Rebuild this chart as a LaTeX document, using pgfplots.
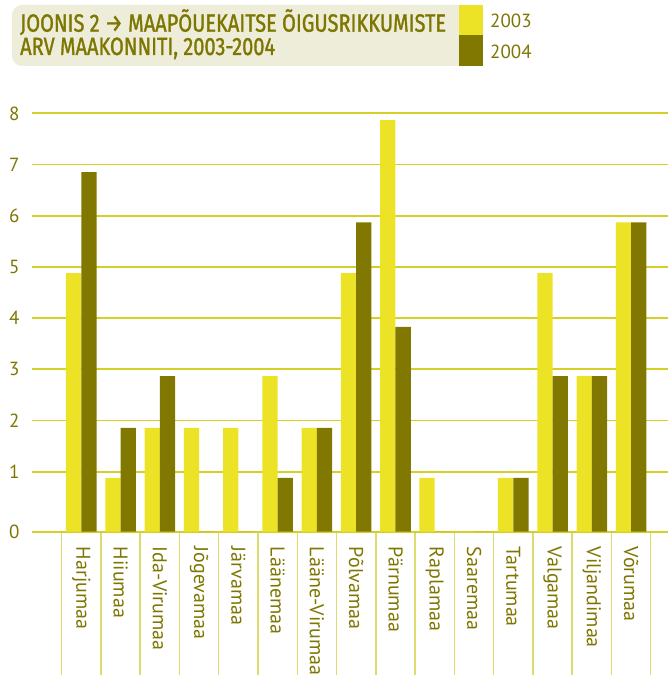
\documentclass[border=0pt]{standalone}
\usepackage{pgfplots}
\pgfplotsset{compat=1.18}
\usetikzlibrary{calc}
\usepackage{fontspec}
\setmainfont{PT Sans}
\newfontfamily\titlefont[FakeStretch=0.8, FakeBold=1.2]{Fira Sans}

\definecolor{yel}{RGB}{237,227,38}
\definecolor{oli}{RGB}{128,120,0}
\definecolor{txt}{RGB}{125,118,0}
\definecolor{gridcol}{RGB}{213,208,40}
\definecolor{basecol}{RGB}{222,220,110}
\definecolor{titlebg}{RGB}{238,237,218}

\begin{document}
\begin{tikzpicture}
\begin{axis}[
  name=ax, anchor=south west,
  scale only axis, width=658.3pt, height=425pt,
  xmin=-1.263, xmax=15.5, ymin=0, ymax=8.3,
  ybar=0pt, bar width=15.3pt,
  axis line style={draw=none},
  /pgf/number format/assume math mode=true,
  xtick={0,...,14},
  xticklabels={Harjumaa,Hiiumaa,Ida-Virumaa,Jõgevamaa,Järvamaa,Läänemaa,Lääne-Virumaa,Põlvamaa,Pärnumaa,Raplamaa,Saaremaa,Tartumaa,Valgamaa,Viljandimaa,Võrumaa},
  xtick pos=bottom, major tick length=0pt,
  xticklabel style={rotate=-90, anchor=west, inner sep=0pt, text=txt, font=\fontsize{20}{20}\selectfont},
  xticklabel shift=15pt,
  extra x ticks={-0.5,0.5,...,14.5},
  extra x tick labels={},
  extra x tick style={major tick length=143.3pt, tick align=outside,
    tick style={draw=basecol, line width=1.5pt}, grid=none},
  ytick={1.17,2.17,3.17,4.17,5.17,6.17,7.17,8.17},
  yticklabels={1,2,3,4,5,6,7,8},
  extra y ticks={0}, extra y tick labels={0},
  extra y tick style={grid style={draw=basecol, line width=2pt}},
  ytick style={draw=none},
  yticklabel style={anchor=east, inner sep=0pt, xshift=-12pt, text=txt, font=\fontsize{19}{19}\selectfont},
  ymajorgrids,
  major grid style={draw=gridcol, line width=1.8pt},
  clip=false,
]
% 2003
\addplot[fill=yel, draw=none] coordinates {
  (0,5.05) (1,1.05) (2,2.03) (3,2.03) (4,2.03) (5,3.04) (6,2.03) (7,5.05)
  (8,8.04) (9,1.05) (10,0) (11,1.05) (12,5.05) (13,3.04) (14,6.04)};
% 2004
\addplot[fill=oli, draw=none] coordinates {
  (0,7.02) (1,2.03) (2,3.04) (3,0) (4,0) (5,1.05) (6,2.03) (7,6.04)
  (8,4.0) (9,0) (10,0) (11,1.05) (12,3.04) (13,3.04) (14,6.04)};
\end{axis}

% page frame: image pixel (X,Y) -> (X-31.7, 531.7-Y) pt from the axis corner
\coordinate (O) at ($(ax.south west)+(-31.7pt,-143.3pt)$);
\pgfresetboundingbox
\path[use as bounding box] (O) rectangle ++(667pt,675pt);

\begin{scope}[shift={(O)}, x=1pt, y=1pt]
\fill[titlebg, rounded corners=10pt] (12,609) rectangle (470,670);
\fill[yel] (459,640) rectangle (483,670);
\fill[oli] (459,609) rectangle (483,640);
\node[anchor=base west, inner sep=0pt, text=txt, font=\titlefont\fontsize{25}{25}\selectfont]
  at (20,643.3) {JOONIS 2 → MAAPÕUEKAITSE ÕIGUSRIKKUMISTE};
\node[anchor=base west, inner sep=0pt, text=txt, font=\titlefont\fontsize{25}{25}\selectfont]
  at (20,620) {ARV MAAKONNITI, 2003-2004};
\node[anchor=west, inner sep=0pt, text=txt, font=\fontsize{19}{19}\selectfont] at (490,654) {2003};
\node[anchor=west, inner sep=0pt, text=txt, font=\fontsize{19}{19}\selectfont] at (490,623) {2004};
\end{scope}
\end{tikzpicture}
\end{document}
